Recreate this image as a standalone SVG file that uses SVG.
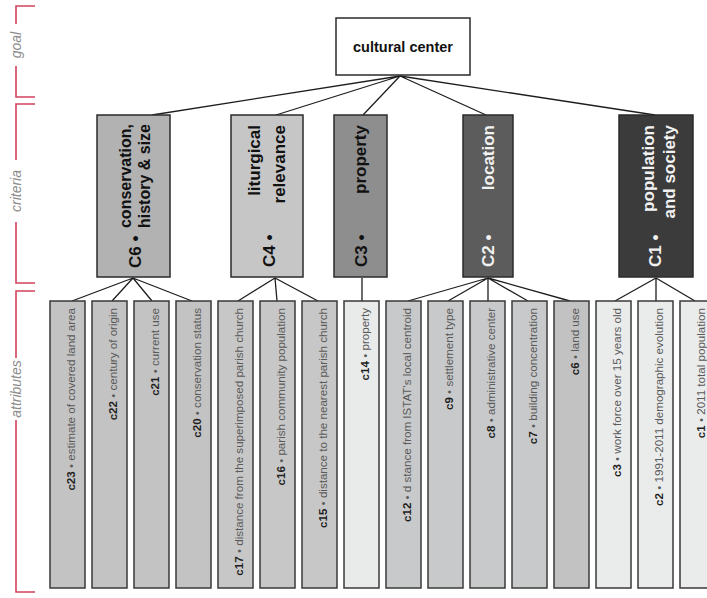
<svg xmlns="http://www.w3.org/2000/svg" width="707" height="598" viewBox="0 0 707 598">
<defs>
<style>
.bg{fill:#ffffff}
.axis{fill:none;stroke:#d2435b;stroke-width:1.6}
.axl{font-family:"Liberation Sans",Arial,sans-serif;font-style:italic;font-size:14px;fill:#8c8c8c;text-anchor:middle}
.goal{fill:#ffffff;stroke:#2b2b2b;stroke-width:1.5}
.gt{font-family:"Liberation Sans",Arial,sans-serif;font-weight:bold;font-size:14.5px;fill:#111;text-anchor:middle}
.crit{stroke:#2b2b2b;stroke-width:1.5}
.ct{font-family:"Liberation Sans",Arial,sans-serif;font-weight:bold;font-size:17px}
.ct2{font-size:16px}
.att{stroke:#3a3a3a;stroke-width:1.5}
.at{font-family:"Liberation Sans",Arial,sans-serif;font-size:11.6px;fill:#5a5a5a;text-anchor:end}
.code{font-weight:bold;fill:#1e1e1e}
.conn{fill:none;stroke:#1e1e1e;stroke-width:1.3}
</style>
</defs>
<rect class="bg" x="0" y="0" width="707" height="598"/>

<g id="axis">
<path class="axis" d="M35,6 H16 V24 M16,66 V97 H35"/>
<path class="axis" d="M35,104 H16 V160 M16,222 V283 H35"/>
<path class="axis" d="M35,291 H16 V358 M16,420 V592 H35"/>
<text class="axl" transform="translate(21,45) rotate(-90)">goal</text>
<text class="axl" transform="translate(21,191) rotate(-90)">criteria</text>
<text class="axl" transform="translate(21,389) rotate(-90)">attributes</text>
</g>

<g id="connectors">
<path class="conn" d="M400,76 L152,115 M400,76 L276,115 M400,76 L363,115 M400,76 L486,115 M400,76 L655,115"/>
<path class="conn" d="M133,278 L72,301 M133,278 L112,301 M133,278 L152,301 M133,278 L192,301"/>
<path class="conn" d="M275,278 L238,301 M275,278 L277,301 M275,278 L318,301"/>
<path class="conn" d="M362,278 L362,301"/>
<path class="conn" d="M488,278 L408,301 M488,278 L448,301 M488,278 L488,301 M488,278 L528,301 M488,278 L570,301"/>
<path class="conn" d="M656,278 L615,301 M656,278 L656,301 M656,278 L695,301"/>
</g>

<g id="goal">
<rect class="goal" x="336" y="18" width="134" height="57"/>
<text class="gt" x="403" y="52">cultural center</text>
</g>

<g id="C6">
<rect class="crit" x="97" y="115" width="73" height="162" fill="#b2b2b2"/>
<text class="ct" fill="#111" transform="translate(141,268) rotate(-90)">C6 •</text>
<text class="ct ct2" fill="#111" text-anchor="end" transform="translate(131,124) rotate(-90)">conservation,</text>
<text class="ct ct2" fill="#111" text-anchor="end" transform="translate(150,124) rotate(-90)">history &amp; size</text>
</g>
<g id="C4">
<rect class="crit" x="231" y="115" width="72" height="162" fill="#c6c6c6"/>
<text class="ct" fill="#111" transform="translate(275,267) rotate(-90)">C4 •</text>
<text class="ct" fill="#111" text-anchor="end" transform="translate(260,125) rotate(-90)">liturgical</text>
<text class="ct" fill="#111" text-anchor="end" transform="translate(285,125) rotate(-90)">relevance</text>
</g>
<g id="C3">
<rect class="crit" x="334" y="115" width="53" height="162" fill="#8e8e8e"/>
<text class="ct" fill="#111" transform="translate(367,267) rotate(-90)">C3 •</text>
<text class="ct" fill="#111" text-anchor="end" transform="translate(366,125) rotate(-90)">property</text>
</g>
<g id="C2">
<rect class="crit" x="463" y="115" width="50" height="162" fill="#5c5c5c"/>
<text class="ct" fill="#f2f2f2" transform="translate(494,267) rotate(-90)">C2 •</text>
<text class="ct" fill="#f2f2f2" text-anchor="end" transform="translate(494,125) rotate(-90)">location</text>
</g>
<g id="C1">
<rect class="crit" x="619" y="115" width="74" height="162" fill="#3b3b3b"/>
<text class="ct" fill="#f2f2f2" transform="translate(661,267) rotate(-90)">C1 •</text>
<text class="ct" fill="#f2f2f2" text-anchor="end" transform="translate(654,125) rotate(-90)">population</text>
<text class="ct" fill="#f2f2f2" text-anchor="end" transform="translate(675,125) rotate(-90)">and society</text>
</g>

<g id="c23"><rect class="att" x="50" y="301" width="35" height="287" fill="#c3c3c3"/><text class="at" transform="translate(75,308) rotate(-90)"><tspan class="code">c23</tspan> • estimate of covered land area</text></g>
<g id="c22"><rect class="att" x="92" y="301" width="35" height="287" fill="#c3c3c3"/><text class="at" transform="translate(117,308) rotate(-90)"><tspan class="code">c22</tspan> • century of origin</text></g>
<g id="c21"><rect class="att" x="134" y="301" width="35" height="287" fill="#c3c3c3"/><text class="at" transform="translate(159,308) rotate(-90)"><tspan class="code">c21</tspan> • current use</text></g>
<g id="c20"><rect class="att" x="176" y="301" width="35" height="287" fill="#c3c3c3"/><text class="at" transform="translate(201,308) rotate(-90)"><tspan class="code">c20</tspan> • conservation status</text></g>
<g id="c17"><rect class="att" x="218" y="301" width="35" height="287" fill="#c7c7c7"/><text class="at" transform="translate(243,308) rotate(-90)"><tspan class="code">c17</tspan> • distance from the superimposed parish church</text></g>
<g id="c16"><rect class="att" x="260" y="301" width="35" height="287" fill="#c7c7c7"/><text class="at" transform="translate(285,308) rotate(-90)"><tspan class="code">c16</tspan> • parish community population</text></g>
<g id="c15"><rect class="att" x="302" y="301" width="35" height="287" fill="#c7c7c7"/><text class="at" transform="translate(327,308) rotate(-90)"><tspan class="code">c15</tspan> • distance to the nearest parish church</text></g>
<g id="c14"><rect class="att" x="344" y="301" width="35" height="287" fill="#e9ebeb"/><text class="at" transform="translate(369,308) rotate(-90)"><tspan class="code">c14</tspan> • property</text></g>
<g id="c12"><rect class="att" x="386" y="301" width="35" height="287" fill="#c8c9ca"/><text class="at" transform="translate(411,308) rotate(-90)"><tspan class="code">c12</tspan> • d stance from ISTAT's local centroid</text></g>
<g id="c9"><rect class="att" x="428" y="301" width="35" height="287" fill="#c8c9ca"/><text class="at" transform="translate(453,308) rotate(-90)"><tspan class="code">c9</tspan> • settlement type</text></g>
<g id="c8"><rect class="att" x="470" y="301" width="35" height="287" fill="#c8c9ca"/><text class="at" transform="translate(495,308) rotate(-90)"><tspan class="code">c8</tspan> • administrative center</text></g>
<g id="c7"><rect class="att" x="512" y="301" width="35" height="287" fill="#c8c9ca"/><text class="at" transform="translate(537,308) rotate(-90)"><tspan class="code">c7</tspan> • building concentration</text></g>
<g id="c6"><rect class="att" x="554" y="301" width="35" height="287" fill="#c2c2c2"/><text class="at" transform="translate(579,308) rotate(-90)"><tspan class="code">c6</tspan> • land use</text></g>
<g id="c3"><rect class="att" x="596" y="301" width="35" height="287" fill="#eaecec"/><text class="at" transform="translate(621,308) rotate(-90)"><tspan class="code">c3</tspan> • work force over 15 years old</text></g>
<g id="c2"><rect class="att" x="638" y="301" width="35" height="287" fill="#eaecec"/><text class="at" transform="translate(663,308) rotate(-90)"><tspan class="code">c2</tspan> • 1991-2011 demographic evolution</text></g>
<g id="c1"><rect class="att" x="680" y="301" width="35" height="287" fill="#eaecec"/><text class="at" transform="translate(705,308) rotate(-90)"><tspan class="code">c1</tspan> • 2011 total population</text></g>
</svg>
